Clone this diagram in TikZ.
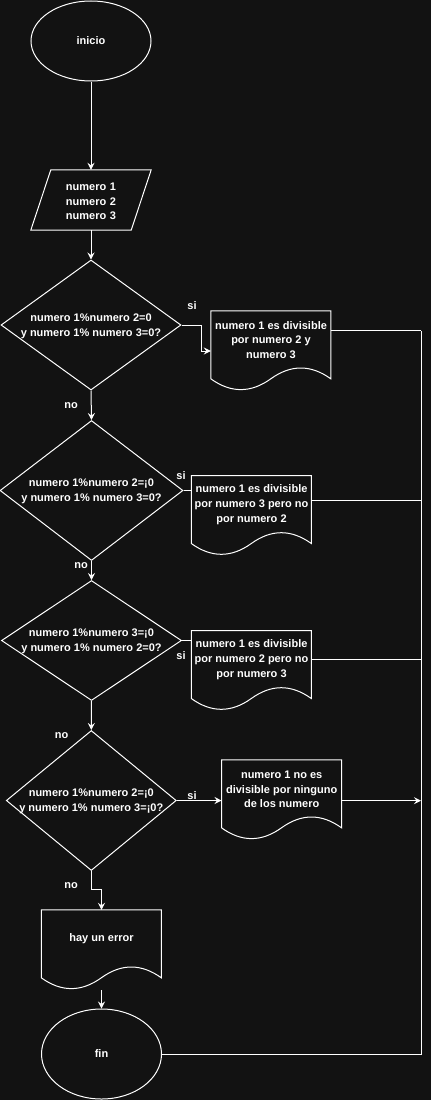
\documentclass[tikz,border=0pt]{standalone}
\usepackage{fontspec}
\setmainfont{Liberation Sans}
\usetikzlibrary{shapes.geometric,arrows.meta,calc}
\definecolor{bg}{RGB}{18,18,18}
\tikzset{
  ln/.style={draw=white, line width=1pt},
  arr/.style={ln, -{Stealth[length=7pt,width=7pt,inset=2.5pt]}},
  txt/.style={text=white, font=\bfseries\fontsize{11}{14.7}\selectfont, align=center, inner sep=0pt},
  term/.style={ellipse, draw=white, line width=1pt, inner sep=0pt, minimum width=120pt},
  dec/.style={diamond, draw=white, line width=1pt, inner sep=0pt},
  docbox/.style={rectangle, inner sep=0pt, minimum width=120pt, minimum height=80pt},
}
\newcommand\docdraw[1]{\draw[ln,shift={(#1.north west)}] (0,0) -- (120,0) -- (120,68) .. controls (100,53.6) and (80,53.6) .. (60,68) .. controls (40,82.4) and (20,82.4) .. (0,68) -- cycle;}
\begin{document}
\begin{tikzpicture}[x=1pt,y=-1pt]
\fill[bg] (0,0) rectangle (431,1100);
\useasboundingbox (0,0) rectangle (431,1100);

% terminals
\node[term, minimum height=80pt] (ini) at (91,41) {};
\node[txt] (init) at (ini) {inicio};
\node[term, minimum height=90pt] (fin) at (101.5,1054) {};
\node[txt] (fint) at (fin) {fin};

% input
\node[docbox, minimum height=60pt] (par) at (91,200) {};
\draw[ln] ($(par.north west)+(20,0)$) -- (par.north east) -- ($(par.south east)+(-20,0)$) -- (par.south west) -- cycle;
\node[txt, text width=100pt] (part) at (91,201.5) {numero 1\\numero 2\\numero 3};

% decisions
\node[dec, minimum width=180pt, minimum height=130pt] (d1) at (91,325) {};
\node[txt] (d1t) at (91,326) {numero 1\%numero 2=0\\y numero 1\% numero 3=0?};
\node[dec, minimum width=183pt, minimum height=140pt] (d2) at (91.5,490.5) {};
\node[txt] (d2t) at (91.5,491.5) {numero 1\%numero 2=¡0\\y numero 1\% numero 3=0?};
\node[dec, minimum width=180pt, minimum height=120pt] (d3) at (91.5,640.5) {};
\node[txt] (d3t) at (91.5,641.5) {numero 1\%numero 3=¡0\\y numero 1\% numero 2=0?};
\node[dec, minimum width=170pt, minimum height=140pt] (d4) at (91.3,800.5) {};
\node[txt] (d4t) at (91.3,801.5) {numero 1\%numero 2=¡0\\y numero 1\% numero 3=¡0?};

% documents
\node[docbox] (doc1) at (271,351) {};
\docdraw{doc1}
\node[txt] (doc1t) at (271,340) {numero 1 es divisible\\por numero 2 y\\numero 3};
\node[docbox] (doc2) at (251.5,515.7) {};
\docdraw{doc2}
\node[txt] (doc2t) at (251.5,504.7) {numero 1 es divisible\\por numero 3 pero no\\por numero 2};
\node[docbox] (doc3) at (251.5,670.7) {};
\docdraw{doc3}
\node[txt] (doc3t) at (251.5,659.7) {numero 1 es divisible\\por numero 2 pero no\\por numero 3};
\node[docbox] (doc4) at (281.7,800) {};
\docdraw{doc4}
\node[txt] (doc4t) at (281.7,789.5) {numero 1 no es\\divisible por ninguno\\de los numero};
\node[docbox] (doc5) at (101.5,950) {};
\docdraw{doc5}
\node[txt] (doc5t) at (101.5,939) {hay un error};

% main flow
\draw[arr] (ini.south) -- (par.north);
\draw[arr] (par.south) -- (d1.north);
\draw[arr] (d1.south) -- (d2.north);
\draw[arr] (d2.south) -- (d3.north);
\draw[arr] (d3.south) -- (d4.north);
\draw[arr] (d4.south) |- ($(doc5.north)+(0,-20)$) -- (doc5.north);
\draw[arr] (doc5.south) -- (fin.north);

% yes branches
\draw[arr] (d1.east) -- ++(20,0) |- (doc1.west);
\draw[ln] (d2.east) -- (d2.east -| doc2.west);
\draw[ln] (d3.east) -- (d3.east -| doc3.west);
\draw[arr] (d4.east) -- (d4.east -| doc4.west);

% collector
\coordinate (j1) at (421,330.7);
\coordinate (j2) at (421,500);
\coordinate (j3) at (421,659.3);
\coordinate (j4) at (421,800.7);
\draw[ln] (fin.east) -| (j1);
\draw[ln] (doc1.east |- j1) -- (j1);
\draw[ln] (doc2.east |- j2) -- (j2);
\draw[ln] (doc3.east |- j3) -- (j3);
\draw[arr] (doc4.east |- j4) -- (j4);

% labels
\node[txt] (l1) at (192,306) {si};
\node[txt] (l2) at (71,406) {no};
\node[txt] (l3) at (181,476) {si};
\node[txt] (l4) at (81,566) {no};
\node[txt] (l5) at (181,656) {si};
\node[txt] (l6) at (61.5,736) {no};
\node[txt] (l7) at (192,796) {si};
\node[txt] (l8) at (71,886) {no};
\end{tikzpicture}
\end{document}
